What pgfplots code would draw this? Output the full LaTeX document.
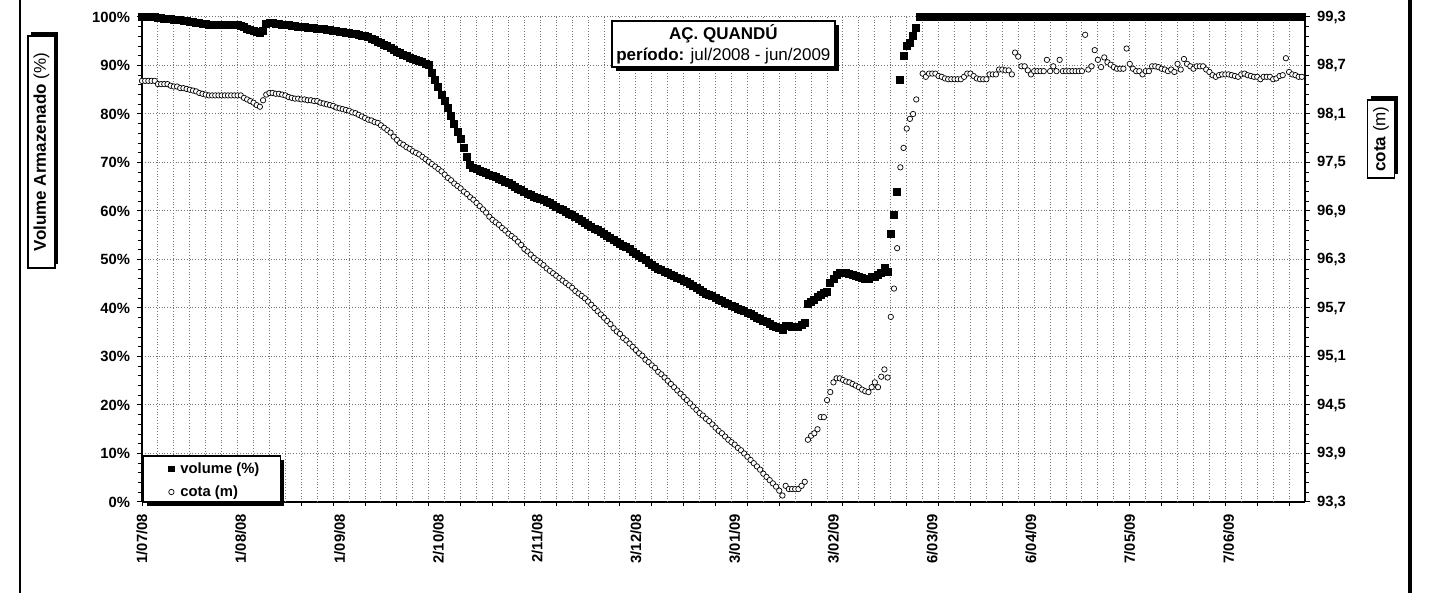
\documentclass[border=0pt]{standalone}
\usepackage{fontspec}
\setmainfont{Liberation Sans}
\usepackage{graphicx}
\usepackage{pgfplots}
\pgfplotsset{compat=1.18}
\usepackage{pgfplotstable}
\usetikzlibrary{shadows}

% volume armazenado (%), dia contado a partir de 1/07/2008
\pgfplotstableread{
dia vol
0 100
1 100
2 100
3 100
4 100
5 99.9
6 99.8
7 99.7
8 99.6
9 99.6
10 99.5
11 99.4
12 99.3
13 99.2
14 99.1
15 99.0
16 98.9
17 98.8
18 98.7
19 98.6
20 98.5
21 98.4
22 98.4
23 98.4
24 98.4
25 98.4
26 98.4
27 98.3
28 98.3
29 98.3
30 98.3
31 98.1
32 97.9
33 97.6
34 97.4
35 97.2
36 97.0
37 96.8
38 97.2
39 98.6
40 98.8
41 98.7
42 98.6
43 98.5
44 98.4
45 98.3
46 98.3
47 98.2
48 98.1
49 98.0
50 98.0
51 97.9
52 97.8
53 97.8
54 97.7
55 97.6
56 97.5
57 97.5
58 97.4
59 97.3
60 97.2
61 97.1
62 97.0
63 96.9
64 96.8
65 96.7
66 96.6
67 96.5
68 96.3
69 96.2
70 96.0
71 95.8
72 95.5
73 95.2
74 94.9
75 94.6
76 94.3
77 94.0
78 93.6
79 93.2
80 92.8
81 92.5
82 92.2
83 91.9
84 91.6
85 91.3
86 91.1
87 90.9
88 90.7
89 90.4
90 90.1
91 88.4
92 87.0
93 85.5
94 84.0
95 82.6
96 81.2
97 79.6
98 78.0
99 76.4
100 74.8
101 73.0
102 71.2
103 69.5
104 68.9
105 68.6
106 68.3
107 68.0
108 67.8
109 67.5
110 67.2
111 67.0
112 66.7
113 66.4
114 66.0
115 65.7
116 65.3
117 65.0
118 64.6
119 64.3
120 63.9
121 63.6
122 63.3
123 63.0
124 62.8
125 62.5
126 62.2
127 61.9
128 61.6
129 61.3
130 60.9
131 60.5
132 60.2
133 59.8
134 59.4
135 59.1
136 58.7
137 58.3
138 58.0
139 57.6
140 57.2
141 56.8
142 56.4
143 56.0
144 55.6
145 55.2
146 54.8
147 54.4
148 54.0
149 53.6
150 53.3
151 52.9
152 52.5
153 52.1
154 51.6
155 51.2
156 50.8
157 50.4
158 49.9
159 49.4
160 48.9
161 48.5
162 48.1
163 47.8
164 47.5
165 47.2
166 46.9
167 46.6
168 46.2
169 45.9
170 45.6
171 45.3
172 44.9
173 44.5
174 44.1
175 43.7
176 43.4
177 43.0
178 42.7
179 42.4
180 42.0
181 41.7
182 41.4
183 41.1
184 40.8
185 40.5
186 40.2
187 39.9
188 39.6
189 39.3
190 39.0
191 38.7
192 38.3
193 38.0
194 37.7
195 37.4
196 37.1
197 36.7
198 36.4
199 36.1
200 35.8
201 35.5
202 36.3
203 36.3
204 36.1
205 36.1
206 36.1
207 36.5
208 36.9
209 40.8
210 41.3
211 41.7
212 42.2
213 42.6
214 43.2
215 43.4
216 45.1
217 46.1
218 46.8
219 47.3
220 47.3
221 47.2
222 47.0
223 46.9
224 46.7
225 46.5
226 46.3
227 46.1
228 45.9
229 46.4
230 46.5
231 46.8
232 47.2
233 48.3
234 47.5
235 55.2
236 59.2
237 64.0
238 87.0
239 92.0
240 94.0
241 94.6
242 96.0
243 97.8
244 100
245 100
246 100
247 100
248 100
249 100
250 100
251 100
252 100
253 100
254 100
255 100
256 100
257 100
258 100
259 100
260 100
261 100
262 100
263 100
264 100
265 100
266 100
267 100
268 100
269 100
270 100
271 100
272 100
273 100
274 100
275 100
276 100
277 100
278 100
279 100
280 100
281 100
282 100
283 100
284 100
285 100
286 100
287 100
288 100
289 100
290 100
291 100
292 100
293 100
294 100
295 100
296 100
297 100
298 100
299 100
300 100
301 100
302 100
303 100
304 100
305 100
306 100
307 100
308 100
309 100
310 100
311 100
312 100
313 100
314 100
315 100
316 100
317 100
318 100
319 100
320 100
321 100
322 100
323 100
324 100
325 100
326 100
327 100
328 100
329 100
330 100
331 100
332 100
333 100
334 100
335 100
336 100
337 100
338 100
339 100
340 100
341 100
342 100
343 100
344 100
345 100
346 100
347 100
348 100
349 100
350 100
351 100
352 100
353 100
354 100
355 100
356 100
357 100
358 100
359 100
360 100
361 100
362 100
363 100
364 100
}\volume

% cota (m)
\pgfplotstableread{
dia cota
0 98.51
1 98.51
2 98.51
3 98.51
4 98.51
5 98.47
6 98.47
7 98.47
8 98.47
9 98.45
10 98.44
11 98.44
12 98.42
13 98.42
14 98.41
15 98.40
16 98.39
17 98.38
18 98.36
19 98.35
20 98.34
21 98.33
22 98.33
23 98.33
24 98.33
25 98.33
26 98.33
27 98.33
28 98.33
29 98.33
30 98.33
31 98.33
32 98.30
33 98.28
34 98.26
35 98.24
36 98.21
37 98.19
38 98.27
39 98.34
40 98.36
41 98.36
42 98.35
43 98.35
44 98.34
45 98.33
46 98.31
47 98.30
48 98.29
49 98.29
50 98.28
51 98.28
52 98.27
53 98.27
54 98.26
55 98.26
56 98.24
57 98.23
58 98.22
59 98.21
60 98.20
61 98.18
62 98.17
63 98.16
64 98.15
65 98.14
66 98.12
67 98.11
68 98.09
69 98.07
70 98.05
71 98.03
72 98.02
73 98.00
74 97.99
75 97.96
76 97.93
77 97.90
78 97.87
79 97.82
80 97.78
81 97.74
82 97.72
83 97.69
84 97.67
85 97.64
86 97.62
87 97.60
88 97.57
89 97.54
90 97.51
91 97.48
92 97.45
93 97.42
94 97.39
95 97.35
96 97.31
97 97.28
98 97.24
99 97.21
100 97.18
101 97.14
102 97.11
103 97.07
104 97.04
105 97.00
106 96.96
107 96.92
108 96.88
109 96.83
110 96.79
111 96.76
112 96.73
113 96.69
114 96.66
115 96.62
116 96.59
117 96.56
118 96.52
119 96.48
120 96.43
121 96.40
122 96.36
123 96.32
124 96.29
125 96.26
126 96.23
127 96.19
128 96.16
129 96.13
130 96.10
131 96.07
132 96.04
133 96.01
134 95.98
135 95.95
136 95.91
137 95.88
138 95.85
139 95.82
140 95.78
141 95.74
142 95.70
143 95.66
144 95.62
145 95.58
146 95.54
147 95.50
148 95.45
149 95.41
150 95.38
151 95.33
152 95.30
153 95.26
154 95.22
155 95.18
156 95.14
157 95.11
158 95.06
159 95.03
160 94.99
161 94.96
162 94.91
163 94.88
164 94.84
165 94.80
166 94.76
167 94.72
168 94.68
169 94.64
170 94.60
171 94.56
172 94.52
173 94.48
174 94.44
175 94.40
176 94.37
177 94.33
178 94.30
179 94.26
180 94.22
181 94.18
182 94.15
183 94.11
184 94.07
185 94.04
186 94.01
187 93.97
188 93.94
189 93.90
190 93.86
191 93.82
192 93.78
193 93.74
194 93.70
195 93.65
196 93.61
197 93.57
198 93.53
199 93.49
200 93.44
201 93.38
202 93.50
203 93.46
204 93.46
205 93.46
206 93.46
207 93.50
208 93.55
209 94.07
210 94.12
211 94.15
212 94.20
213 94.35
214 94.35
215 94.56
216 94.66
217 94.78
218 94.83
219 94.83
220 94.81
221 94.79
222 94.78
223 94.76
224 94.74
225 94.72
226 94.69
227 94.67
228 94.66
229 94.72
230 94.78
231 94.72
232 94.85
233 94.94
234 94.84
235 95.59
236 95.94
237 96.44
238 97.44
239 97.68
240 97.92
241 98.04
242 98.10
243 98.28
245 98.60
246 98.56
247 98.60
248 98.60
249 98.60
250 98.57
251 98.56
252 98.54
253 98.53
254 98.53
255 98.53
256 98.53
257 98.53
258 98.56
259 98.60
260 98.60
261 98.57
262 98.54
263 98.53
264 98.53
265 98.53
266 98.59
267 98.59
268 98.59
269 98.65
270 98.65
271 98.64
272 98.64
273 98.59
274 98.86
275 98.81
276 98.69
277 98.69
278 98.64
279 98.59
280 98.63
281 98.63
282 98.63
283 98.63
284 98.77
285 98.63
286 98.69
287 98.63
288 98.77
289 98.63
290 98.63
291 98.63
292 98.63
293 98.63
294 98.63
295 98.63
296 99.08
297 98.65
298 98.69
299 98.89
300 98.77
301 98.68
302 98.80
303 98.74
304 98.71
305 98.68
306 98.66
307 98.66
308 98.66
309 98.91
310 98.72
311 98.66
312 98.63
313 98.63
314 98.59
315 98.63
316 98.63
317 98.69
318 98.69
319 98.68
320 98.66
321 98.65
322 98.63
323 98.65
324 98.62
325 98.72
326 98.65
327 98.78
328 98.72
329 98.69
330 98.66
331 98.69
332 98.69
333 98.69
334 98.65
335 98.62
336 98.58
337 98.56
338 98.58
339 98.59
340 98.59
341 98.59
342 98.58
343 98.57
344 98.56
345 98.59
346 98.60
347 98.58
348 98.57
349 98.56
350 98.56
351 98.53
352 98.56
353 98.56
354 98.56
355 98.53
356 98.54
357 98.57
358 98.58
359 98.79
360 98.62
361 98.59
362 98.58
363 98.56
364 98.56
}\cota

\newcommand{\tickfont}{\fontsize{7.4}{8.9}\selectfont\bfseries}
\newcommand{\boxfont}{\fontsize{8.5}{10.5}\selectfont}

\pgfplotsset{
  comum/.style={
    scale only axis, width=581.5pt, height=242.5pt,
    at={(0pt,0pt)}, anchor=south west,
    xmin=0, xmax=365,
    tick align=outside,
    major tick length=2.5pt, minor tick length=2pt,
    every tick/.style={black, line width=0.5pt},
    axis line style={black, line width=0.8pt},
    ticklabel style={font=\tickfont},
    /pgf/number format/assume math mode=true,
  },
}
\tikzset{sombra/.style={drop shadow={shadow xshift=#1, shadow yshift=-1.8pt, fill=black, opacity=1}}}

\begin{document}
\begin{tikzpicture}
\useasboundingbox (-71pt,-45.5pt) rectangle (647pt,251pt);

% eixo principal: volume armazenado
\begin{axis}[comum,
  ymin=0, ymax=100,
  axis x line*=bottom, axis y line*=left,
  xtick={0,31,62,93,124,155,186,217,248,279,310,341},
  xticklabels={1/07/08,1/08/08,1/09/08,2/10/08,2/11/08,3/12/08,3/01/09,3/02/09,6/03/09,6/04/09,7/05/09,7/06/09},
  x tick label style={rotate=90, anchor=east},
  major x tick style={draw=none},
  minor xtick={0,10,...,360},
  xminorgrids=true,
  extra x ticks={5,15,...,365},
  extra x tick labels={},
  extra x tick style={grid=major, major tick length=0pt},
  ytick={0,10,...,100},
  minor y tick num=4,
  yticklabel={\pgfmathprintnumber{\tick}\%},
  ymajorgrids=true,
  major grid style={black!55, densely dotted, line width=0.5pt},
  minor grid style={black!55, densely dotted, line width=0.5pt},
]
\addplot[only marks, mark=square*, mark size=1.75pt, black] table[x=dia, y=vol] {\volume};
\end{axis}

% moldura da legenda
\node[draw=black, line width=0.7pt, fill=white, inner sep=0pt, anchor=south west,
  minimum width=68.5pt, minimum height=23pt, sombra=1.8pt] at (0.5pt,-0.4pt) {};

% eixo secundario: cota
\begin{axis}[comum,
  ymin=93.3, ymax=99.3,
  axis x line=none, axis y line*=right,
  ytick={93.3,93.9,94.5,95.1,95.7,96.3,96.9,97.5,98.1,98.7,99.3},
  minor y tick num=4,
  yticklabel style={/pgf/number format/.cd, fixed, fixed zerofill, precision=1, use comma},
  legend style={at={(0.0026,0.0443)}, anchor=west, draw=none, fill=none,
    font=\tickfont, inner sep=0pt, row sep=4.5pt, column sep=0pt,
    nodes={inner sep=0pt, text height=5.5pt, text depth=1.5pt}},
  legend cell align=left,
  legend image code/.code={\path[draw=none] (0pt,0pt) -- (17.5pt,0pt);
    \draw[#1] plot coordinates {(13pt,0pt)};},
]
\addlegendimage{only marks, mark=square*, mark size=1.4pt, black}
\addlegendentry{volume (\%)}
\addplot[only marks, mark=*, mark size=1.35pt,
  mark options={fill=white, draw=black, line width=0.35pt}] table[x=dia, y=cota] {\cota};
\addlegendentry{cota (m)}
\end{axis}

% titulo
\node[fill=white, draw=black, line width=0.7pt, align=center, font=\boxfont,
  minimum width=111.5pt, minimum height=23pt, inner sep=1pt, sombra=1.8pt]
  at (290.7pt,229pt)
  {\textbf{AÇ. QUANDÚ}\\\textbf{período:} jul/2008 - jun/2009};

% rotulos dos eixos
\node[fill=white, draw=black, line width=0.7pt, font=\boxfont,
  minimum width=13.5pt, minimum height=116pt, inner sep=1pt,
  drop shadow={shadow xshift=1.8pt, shadow yshift=1.8pt, fill=black, opacity=1}]
  at (-50.3pt,175pt) {\rotatebox{90}{\textbf{Volume Armazenado} (\%)}};

\node[fill=white, draw=black, line width=0.7pt, font=\boxfont,
  minimum width=13.5pt, minimum height=39pt, inner sep=1pt,
  drop shadow={shadow xshift=1.8pt, shadow yshift=1.8pt, fill=black, opacity=1}]
  at (619.5pt,181.5pt) {\rotatebox{90}{\textbf{cota} (m)}};

% moldura externa
\draw[line width=1pt] (-61pt,-45.5pt) -- (-61pt,251pt);
\draw[line width=2pt] (634pt,-45.5pt) -- (634pt,251pt);
\end{tikzpicture}
\end{document}
